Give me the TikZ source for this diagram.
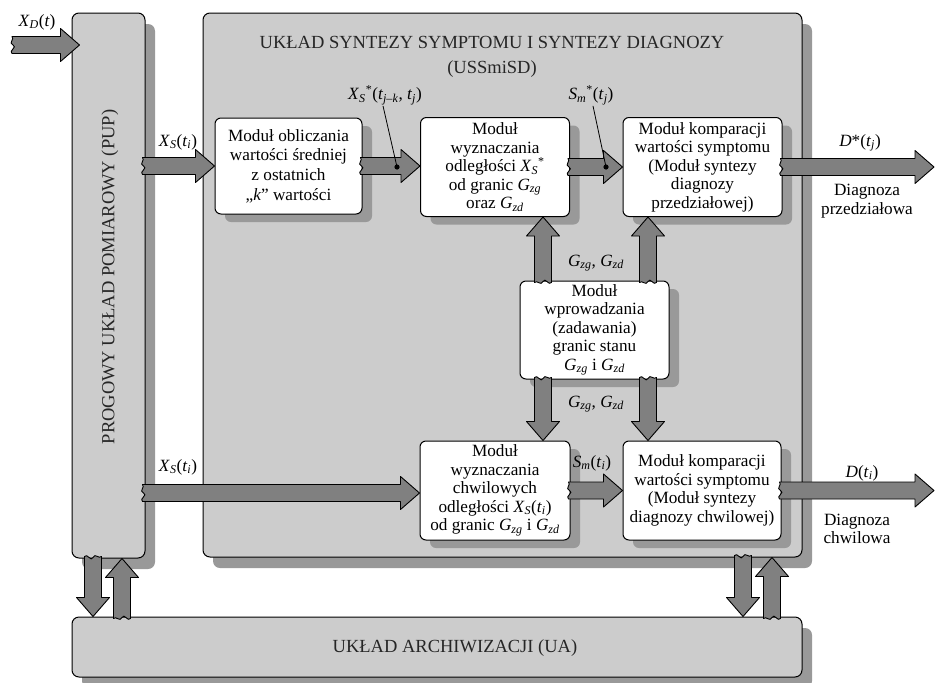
\documentclass[tikz,border=0pt]{standalone}
\usepackage{fontspec}
\setmainfont{Liberation Serif}
\usetikzlibrary{calc,shadows}
\definecolor{boxgray}{gray}{0.80}
\definecolor{shdgray}{gray}{0.60}
\definecolor{arrgray}{gray}{0.50}
\newcommand\modfont{\fontsize{17.2}{18.5}\selectfont}
\newcommand\bigfnt{\fontsize{18.5}{25}\selectfont}
\newcommand\vx[2]{\textit{#1}\textsubscript{\textit{#2}}}
\tikzset{
  bigbox/.style={draw, line width=1pt, fill=boxgray, rounded corners=7pt,
    general shadow={fill=shdgray, shadow xshift=10pt, shadow yshift=-11pt}, inner sep=0pt},
  modbox/.style={draw, line width=1pt, fill=white, rounded corners=6pt,
    general shadow={fill=shdgray, shadow xshift=10pt, shadow yshift=-8pt},
    align=center, font=\modfont, inner sep=0pt},
  bigtext/.style={font=\bigfnt, text=black!85, align=center, inner sep=0pt},
  lbl/.style={font=\modfont, inner sep=1pt, align=center},
  arrowst/.style={fill=arrgray, draw=black, line width=0.9pt, line join=round},
  pointer/.style={draw=black, line width=0.8pt}
}
\newcommand\barrow[2]{%
  \coordinate (bA) at #1;
  \coordinate (bB) at #2;
  \coordinate (bH) at ($(bB)!19pt!(bA)$);
  \filldraw[arrowst]
    ($(bA)!8.5pt!90:(bB)$) -- ($(bH)!8.5pt!90:(bB)$) -- ($(bH)!16.5pt!90:(bB)$) -- (bB)
    -- ($(bH)!16.5pt!-90:(bB)$) -- ($(bH)!8.5pt!-90:(bB)$) -- ($(bA)!8.5pt!-90:(bB)$)
    .. controls ($(bA)!-4pt!(bB)!6pt!-90:(bB)$) and ($(bA)!6pt!(bB)!2pt!-90:(bB)$) .. ($(bA)!1pt!(bB)$)
    .. controls ($(bA)!-4pt!(bB)!2pt!90:(bB)$) and ($(bA)!3pt!(bB)!6pt!90:(bB)$) .. ($(bA)!8.5pt!90:(bB)$) -- cycle;
}
\begin{document}
\begin{tikzpicture}[x=1pt,y=-1pt]
\useasboundingbox (0,0) rectangle (935,683);

% large blocks
\node[bigbox, minimum width=73pt, minimum height=545pt] (pup) at (108.5,285.5) {};
\node[bigbox, minimum width=599pt, minimum height=544pt] (uss) at (502.5,285) {};
\node[bigbox, minimum width=730pt, minimum height=60pt] (ua) at (437,647) {};

\node[bigtext] (title) at (492,57) {UKŁAD SYNTEZY SYMPTOMU I SYNTEZY DIAGNOZY\\(USSmiSD)};
\node[bigtext, rotate=90] (puplab) at (110,277) {PROGOWY UKŁAD POMIAROWY (PUP)};
\node[bigtext] (ualab) at (455,648) {UKŁAD ARCHIWIZACJI (UA)};

% modules
\node[modbox, minimum width=147pt, minimum height=96pt] (b1) at (288.5,166)
  {Moduł obliczania\\[1.2pt]wartości średniej\\[1.2pt]z ostatnich\\[1.2pt]„\textit{k}” wartości};
\node[modbox, minimum width=149pt, minimum height=99pt] (b2) at (495,167)
  {Moduł\\wyznaczania\\odległości \vx{X}{S}\textsuperscript{*}\\od granic \vx{G}{zg}\\oraz \vx{G}{zd}};
\node[modbox, minimum width=159pt, minimum height=99pt] (b3) at (702.5,167)
  {Moduł komparacji\\wartości symptomu\\(Moduł syntezy\\diagnozy\\przedziałowej)};
\node[modbox, minimum width=149pt, minimum height=98pt] (b4) at (594.5,330)
  {Moduł\\wprowadzania\\(zadawania)\\granic stanu\\\vx{G}{zg} i \vx{G}{zd}};
\node[modbox, minimum width=150pt, minimum height=99pt] (b5) at (495,490.5)
  {Moduł\\wyznaczania\\chwilowych\\odległości \vx{X}{S}(\vx{t}{i})\\od granic \vx{G}{zg} i \vx{G}{zd}};
\node[modbox, minimum width=158pt, minimum height=99pt] (b6) at (702,490.5)
  {Moduł komparacji\\wartości symptomu\\(Moduł syntezy\\diagnozy chwilowej)};

% helper coordinates
\coordinate (xdS) at (12,45);
\coordinate (ls) at (0,493);
\coordinate (o1) at (934,167);
\coordinate (o2) at (934,490.5);
\coordinate (cl) at (543,0);
\coordinate (cr) at (648,0);
\coordinate (d1) at (93,0);
\coordinate (u1) at (122,0);
\coordinate (d2) at (743,0);
\coordinate (u2) at (772,0);

% block arrows
\barrow{(xdS)}{($(xdS -| pup.west)+(8,0)$)}
\barrow{($(pup.east |- b1.west)+(-3,0)$)}{(b1.west)}
\barrow{($(b1.east)+(-2,0)$)}{(b1.east -| b2.west)}
\barrow{($(b2.east)+(-2,0)$)}{(b3.west)}
\barrow{($(b3.east)+(-2,0)$)}{(o1)}
\barrow{($(pup.east |- ls)+(-3,0)$)}{(ls -| b5.west)}
\barrow{($(b5.east)+(-2,0)$)}{(b6.west)}
\barrow{($(b6.east)+(-2,0)$)}{(o2)}
\barrow{($(b4.north -| cl)+(0,2)$)}{(b2.south -| cl)}
\barrow{($(b4.north -| cr)+(0,2)$)}{(b3.south -| cr)}
\barrow{($(b4.south -| cl)+(0,-2)$)}{(b5.north -| cl)}
\barrow{($(b4.south -| cr)+(0,-2)$)}{(b6.north -| cr)}
\barrow{($(pup.south -| d1)+(0,-2)$)}{(ua.north -| d1)}
\barrow{($(ua.north -| u1)+(0,2)$)}{(pup.south -| u1)}
\barrow{($(uss.south -| d2)+(0,-2)$)}{(ua.north -| d2)}
\barrow{($(ua.north -| u2)+(0,2)$)}{(uss.south -| u2)}

% labels
\node[lbl] (lxd) at (37,22) {\vx{X}{D}(\textit{t})};
\node[lbl] (lxs1) at (178,142) {\vx{X}{S}(\vx{t}{i})};
\node[lbl] (lxs2) at (178,467) {\vx{X}{S}(\vx{t}{i})};
\node[lbl] (lxsk) at (385,95) {\vx{X}{S}\textsuperscript{*}(\vx{t}{j–k}, \vx{t}{j})};
\node[lbl] (lsmj) at (591,95) {\vx{S}{m}\textsuperscript{*}(\vx{t}{j})};
\node[lbl] (ldj) at (860,143) {\textit{D}*(\vx{t}{j})};
\node[lbl] (diag1) at (867,201) {Diagnoza\\przedziałowa};
\node[lbl] (lg1) at (596,263) {\vx{G}{zg}, \vx{G}{zd}};
\node[lbl] (lg2) at (596,404) {\vx{G}{zg}, \vx{G}{zd}};
\node[lbl] (lsmi) at (592,463) {\vx{S}{m}(\vx{t}{i})};
\node[lbl] (ldi) at (862,473) {\textit{D}(\vx{t}{i})};
\node[lbl] (diag2) at (857,529) {Diagnoza\\chwilowa};

% pointers
\coordinate (dA) at (397,167);
\coordinate (dB) at (606,167);
\draw[pointer] ($(lxsk.south)+(-2,0)$) -- (dA);
\draw[pointer] ($(lsmj.south)+(2,0)$) -- (dB);
\fill (dA) circle (2.6pt);
\fill (dB) circle (2.6pt);
\end{tikzpicture}
\end{document}
